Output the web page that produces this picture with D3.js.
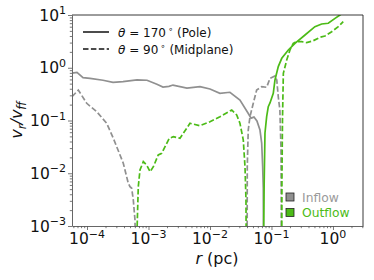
<!DOCTYPE html>
<html>
<head>
<meta charset="utf-8">
<script src="https://cdn.jsdelivr.net/npm/d3@7"></script>
<style>
  body { margin: 0; background: #fff; }
  text { font-family: "DejaVu Sans", sans-serif; }
</style>
</head>
<body>
<script>
// radial velocity / free-fall velocity vs radius
// each array is [r (pc), vr/vff]; values under 1e-3 just mean "drops off the plot"
const poleInflow = [
  [5.7e-5, 0.79], [6.87e-5, 0.82], [8.61e-5, 0.65], [1.12e-4, 0.63], [1.82e-4, 0.58],
  [2.65e-4, 0.53], [3.85e-4, 0.545], [6.5e-4, 0.59], [9.46e-4, 0.58], [1.37e-3, 0.485],
  [1.72e-3, 0.43], [2.15e-3, 0.445], [2.5e-3, 0.47], [4.22e-3, 0.41], [6.87e-3, 0.44],
  [1.0e-2, 0.395], [1.45e-2, 0.328], [2.11e-2, 0.343], [3.07e-2, 0.245], [4.15e-2, 0.139],
  [4.65e-2, 0.111], [5.19e-2, 0.116], [5.8e-2, 0.098], [6.5e-2, 0.066], [6.93e-2, 0.0374],
  [7.19e-2, 0.0133], [7.36e-2, 0.0052], [7.42e-2, 5e-4]
];
const poleOutflow = [
  [7.44e-2, 5e-4], [7.6e-2, 0.006], [7.84e-2, 0.058], [8.35e-2, 0.118], [8.87e-2, 0.183],
  [9.46e-2, 0.215], [0.107, 0.328], [0.114, 0.586], [0.129, 1.05], [0.147, 1.51],
  [0.188, 2.17], [0.241, 2.91], [0.351, 4.18], [0.509, 6.0], [0.655, 6.75],
  [0.839, 6.96], [1.08, 8.65], [1.3, 10], [1.57, 11.9]
];
const midInflowA = [
  [5.7e-5, 0.282], [7.22e-5, 0.378], [9.89e-5, 0.212], [1.44e-4, 0.147], [2.09e-4, 0.0885],
  [2.68e-4, 0.046], [3.89e-4, 0.0155], [4.69e-4, 0.00645], [5.0e-4, 0.00556], [5.33e-4, 0.00519],
  [5.66e-4, 0.00311], [6.03e-4, 0.0013], [6.1e-4, 5e-4]
];
const midOutflowA = [
  [6.43e-4, 5e-4], [6.82e-4, 0.00556], [7.27e-4, 0.0115], [8.23e-4, 0.0166], [9.35e-4, 0.0143],
  [1.06e-3, 0.0107], [1.2e-3, 0.0133], [1.44e-3, 0.0222], [1.64e-3, 0.0239], [2.18e-3, 0.046],
  [2.53e-3, 0.0493], [3.25e-3, 0.046], [4.73e-3, 0.0885], [6.87e-3, 0.0796], [1.0e-2, 0.0948],
  [1.45e-2, 0.118], [2.26e-2, 0.158], [2.72e-2, 0.127], [3.07e-2, 0.0885], [3.48e-2, 0.0427],
  [3.71e-2, 0.0133], [3.85e-2, 0.00311], [3.88e-2, 5e-4]
];
const midInflowB = [
  [4.02e-2, 5e-4], [4.04e-2, 0.0133], [4.19e-2, 0.066], [4.47e-2, 0.118], [5.06e-2, 0.212],
  [5.74e-2, 0.378], [6.93e-2, 0.438], [8.35e-2, 0.426], [9.46e-2, 0.63], [0.114, 0.698],
  [0.122, 0.586], [0.129, 0.282], [0.137, 0.158], [0.143, 0.0276], [0.144, 0.00311], [0.1445, 5e-4]
];
const midOutflowB = [
  [0.147, 5e-4], [0.148, 0.00744], [0.151, 0.102], [0.156, 0.785], [0.177, 1.4],
  [0.2, 2.17], [0.226, 2.91], [0.257, 3.12], [0.31, 3.12], [0.373, 2.99],
  [0.479, 3.26], [0.615, 3.78], [0.741, 4.0], [0.953, 4.82], [1.22, 6.0], [1.47, 7.47]
];

const xMajor = [1e-4, 1e-3, 1e-2, 1e-1, 1e0];
const yMajor = [1e-3, 1e-2, 1e-1, 1e0, 1e1];
const lineLegend = ["(Pole)", "(Midplane)"];
const lineAngles = ["170", "90"];
const flowLegend = ["Inflow", "Outflow"];

const grey = "#909090", green = "#4cbb17";

const width = 374, height = 280;
const margin = {top: 15, right: 11, bottom: 54, left: 72};

const svg = d3.select("body").append("svg")
  .attr("width", width)
  .attr("height", height);

const x = d3.scaleLog().domain([5.7e-5, 3.08]).range([margin.left, width - margin.right]);
const y = d3.scaleLog().domain([1e-3, 10]).range([height - margin.bottom, margin.top]);

// minor tick positions, 2..9 in every decade
function minors(lo, hi) {
  const out = [];
  for (let e = Math.floor(Math.log10(lo)); e <= Math.ceil(Math.log10(hi)); e++)
    for (let k = 2; k <= 9; k++) {
      const v = k * Math.pow(10, e);
      if (v >= lo && v <= hi) out.push(v);
    }
  return out;
}

svg.append("clipPath").attr("id", "clip")
  .append("rect")
    .attr("x", margin.left).attr("y", margin.top)
    .attr("width", width - margin.left - margin.right)
    .attr("height", height - margin.top - margin.bottom);

const plot = svg.append("g").attr("clip-path", "url(#clip)");
const line = d3.line().x(d => x(d[0])).y(d => y(d[1]));

const series = [
  {data: poleInflow, color: grey, dash: null},
  {data: midInflowA, color: grey, dash: "5.5,2.4"},
  {data: midInflowB, color: grey, dash: "5.5,2.4"},
  {data: midOutflowA, color: green, dash: "5.5,2.4"},
  {data: midOutflowB, color: green, dash: "5.5,2.4"},
  {data: poleOutflow, color: green, dash: null}
];

plot.selectAll("path.s")
  .data(series)
  .join("path")
    .attr("class", "s")
    .attr("d", d => line(d.data))
    .attr("fill", "none")
    .attr("stroke", d => d.color)
    .attr("stroke-width", 1.7)
    .attr("stroke-dasharray", d => d.dash);

// axes (ticks only, labels drawn by hand for the superscripts)
const xAxis = svg.append("g")
  .attr("transform", `translate(0,${height - margin.bottom})`)
  .call(d3.axisBottom(x).tickValues(xMajor).tickFormat("").tickSize(4).tickSizeOuter(0));
svg.append("g")
  .attr("transform", `translate(0,${height - margin.bottom})`)
  .call(d3.axisBottom(x).tickValues(minors(5.7e-5, 3.08)).tickFormat("").tickSize(2.2).tickSizeOuter(0))
  .call(g => g.select(".domain").remove());
const yAxis = svg.append("g")
  .attr("transform", `translate(${margin.left},0)`)
  .call(d3.axisLeft(y).tickValues(yMajor).tickFormat("").tickSize(4).tickSizeOuter(0));
svg.append("g")
  .attr("transform", `translate(${margin.left},0)`)
  .call(d3.axisLeft(y).tickValues(minors(1e-3, 10)).tickFormat("").tickSize(2.2).tickSizeOuter(0))
  .call(g => g.select(".domain").remove());

svg.selectAll(".tick line").attr("stroke", "#555").attr("stroke-width", 0.8);
xAxis.select(".domain").attr("stroke", "#666");
yAxis.select(".domain").attr("stroke", "#666");

// top and right spines
svg.append("path")
  .attr("d", `M${margin.left},${margin.top}H${width - margin.right}V${height - margin.bottom}`)
  .attr("fill", "none").attr("stroke", "#222").attr("stroke-width", 0.9);

const sup = v => String(Math.round(Math.log10(v))).replace("-", "\u2212");

const xl = svg.append("g").selectAll("text")
  .data(xMajor)
  .join("text")
    .attr("x", d => x(d))
    .attr("y", 244)
    .attr("text-anchor", "middle")
    .attr("font-size", 15.5)
    .attr("fill", "#111");
xl.append("tspan").text("10");
xl.append("tspan").attr("dy", -6.5).attr("font-size", 11).text(d => sup(d));

const yl = svg.append("g").selectAll("text")
  .data(yMajor)
  .join("text")
    .attr("x", 66)
    .attr("y", d => y(d) + 5.5)
    .attr("text-anchor", "end")
    .attr("font-size", 15.5)
    .attr("fill", "#111");
yl.append("tspan").text("10");
yl.append("tspan").attr("dy", -6.5).attr("font-size", 11).text(d => sup(d));

// axis titles
const xt = svg.append("text")
  .attr("x", 217).attr("y", 264)
  .attr("text-anchor", "middle")
  .attr("font-size", 16).attr("fill", "#111");
xt.append("tspan").attr("font-style", "italic").text("r");
xt.append("tspan").text(" (pc)");

const yt = svg.append("text")
  .attr("transform", "translate(22,120) rotate(-90)")
  .attr("text-anchor", "middle")
  .attr("font-size", 16).attr("fill", "#111")
  .attr("font-style", "italic");
yt.append("tspan").text("v");
yt.append("tspan").attr("dy", 4).attr("font-size", 11.5).text("r");
yt.append("tspan").attr("dy", -4).text("/v");
yt.append("tspan").attr("dy", 4).attr("font-size", 11.5).text("ff");

// line style legend
const lg = svg.append("g").selectAll("g")
  .data(lineLegend)
  .join("g")
    .attr("transform", (d, i) => `translate(0,${32 + i * 17})`);
lg.append("line")
  .attr("x1", 83).attr("x2", 109)
  .attr("stroke", "#111").attr("stroke-width", 1.5)
  .attr("stroke-dasharray", (d, i) => i ? "5.5,2.4" : null);
const lt = lg.append("text")
  .attr("x", 118).attr("y", 4.5)
  .attr("font-size", 12).attr("fill", "#111");
lt.append("tspan").attr("font-style", "italic").text("\u03b8");
lt.append("tspan").text((d, i) => " = " + lineAngles[i]);
lt.append("tspan").attr("dx", 2).attr("dy", -5).attr("font-size", 8.5).text("\u2218");
lt.append("tspan").attr("dy", 5).text(d => "  " + d);

// inflow / outflow legend
const fg = svg.append("g").selectAll("g")
  .data(flowLegend)
  .join("g")
    .attr("transform", (d, i) => `translate(0,${197 + i * 15.5})`);
fg.append("rect")
  .attr("x", 286).attr("y", -4)
  .attr("width", 8).attr("height", 8)
  .attr("fill", (d, i) => i ? green : grey)
  .attr("stroke", "#222").attr("stroke-width", 0.8);
fg.append("text")
  .attr("x", 302).attr("y", 4.5)
  .attr("font-size", 12.3)
  .attr("fill", (d, i) => i ? green : "#9a9a9a")
  .text(d => d);
</script>
</body>
</html>
